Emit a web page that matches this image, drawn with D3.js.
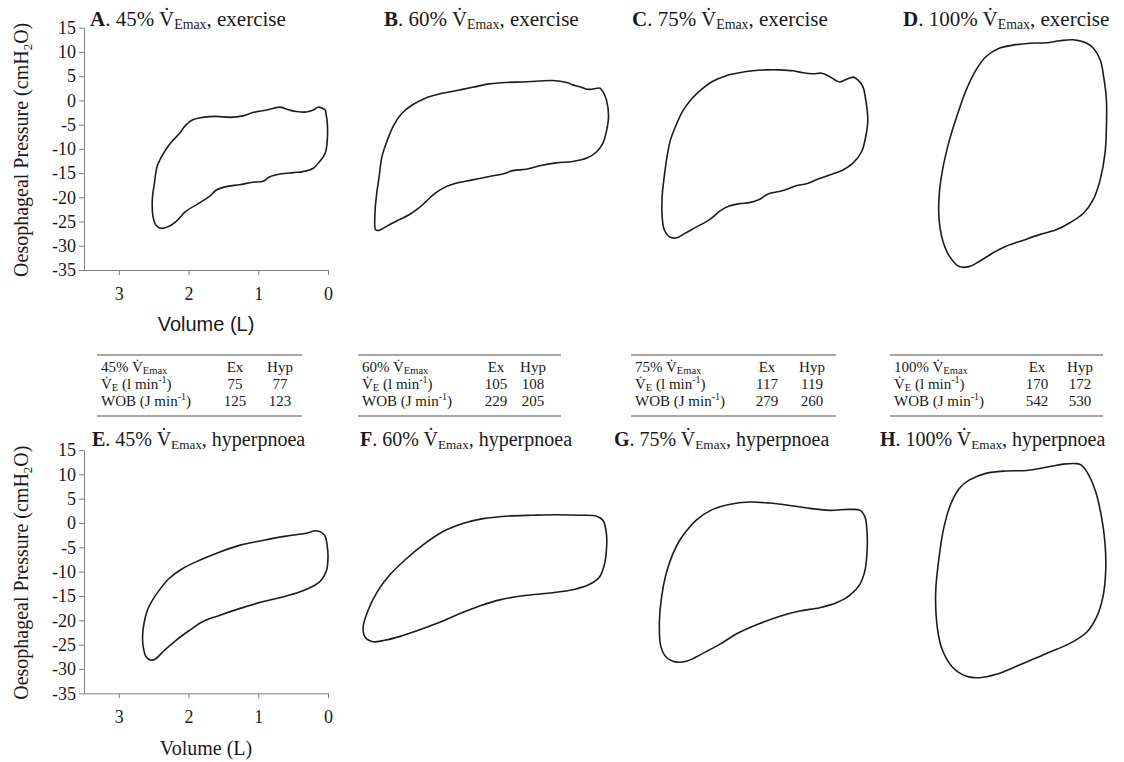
<!DOCTYPE html>
<html>
<head>
<meta charset="utf-8">
<script src="https://cdn.jsdelivr.net/npm/d3@7"></script>
<style>
  body { margin: 0; background: #fff; }
  svg { display: block; }
  text { font-family: "Liberation Serif", "Times New Roman", "DejaVu Serif", serif; fill: #1a1a1a; }
  text.sans { font-family: "Liberation Sans", Arial, sans-serif; }
</style>
</head>
<body>
<svg id="fig" width="1124" height="762"></svg>
<script>
// ---- Data: pressure–volume loops (volume in L from end-expiration, pressure in cmH2O)
const panelLetters = ["A", "B", "C", "D", "E", "F", "G", "H"];
const intensities = ["45%", "60%", "75%", "100%"];
const conditions = ["exercise", "hyperpnoea"];
const pressureTicks = [-35, -30, -25, -20, -15, -10, -5, 0, 5, 10, 15];
const volumeTicks = [3, 2, 1, 0];

const loopA = [[0.04,-2.0],[0.14,-1.4],[0.21,-2.0],[0.31,-2.4],[0.45,-2.3],[0.55,-2.0],[0.69,-1.4],[0.88,-2.0],[1.08,-2.5],[1.22,-3.2],[1.41,-3.5],[1.60,-3.3],[1.80,-3.5],[1.94,-4.0],[2.04,-5.1],[2.13,-6.8],[2.28,-9.2],[2.37,-11.2],[2.45,-13.6],[2.49,-17.1],[2.52,-20.5],[2.51,-24.0],[2.47,-25.7],[2.40,-26.4],[2.30,-26.1],[2.18,-25.0],[2.04,-22.9],[1.85,-21.2],[1.70,-19.8],[1.60,-18.5],[1.46,-17.8],[1.27,-17.4],[1.08,-16.9],[0.93,-16.7],[0.84,-15.8],[0.69,-15.2],[0.50,-14.9],[0.36,-14.7],[0.21,-14.0],[0.12,-12.6],[0.04,-10.9],[0.01,-8.1],[0.01,-4.7],[0.03,-2.6]];

const loopB = [[0.22,2.5],[0.29,2.3],[0.36,2.3],[0.46,2.8],[0.56,3.2],[0.65,3.7],[0.85,4.1],[1.04,4.0],[1.28,3.8],[1.52,3.7],[1.76,3.4],[2.00,2.7],[2.24,2.0],[2.48,1.3],[2.67,0.5],[2.86,-0.9],[3.01,-2.6],[3.13,-5.1],[3.22,-8.1],[3.30,-11.6],[3.34,-15.7],[3.38,-19.8],[3.40,-23.3],[3.39,-26.7],[3.34,-26.8],[3.20,-25.7],[3.05,-24.6],[2.91,-23.6],[2.77,-22.2],[2.67,-20.9],[2.53,-19.1],[2.38,-17.8],[2.24,-17.1],[2.00,-16.4],[1.76,-15.7],[1.57,-15.2],[1.42,-14.5],[1.23,-14.2],[1.04,-13.5],[0.80,-12.9],[0.56,-12.6],[0.36,-11.9],[0.22,-10.6],[0.13,-8.8],[0.08,-6.4],[0.05,-3.3],[0.08,0.1],[0.13,1.8],[0.17,2.5]];

const loopC = [[0.32,4.6],[0.39,4.2],[0.46,3.8],[0.53,4.2],[0.63,5.1],[0.72,5.6],[0.85,5.5],[0.99,5.7],[1.13,6.1],[1.33,6.3],[1.52,6.3],[1.71,6.1],[1.90,5.7],[2.09,5.1],[2.29,3.9],[2.45,2.2],[2.60,0.1],[2.72,-2.3],[2.81,-5.1],[2.89,-8.1],[2.94,-11.6],[2.98,-15.7],[3.01,-19.8],[3.01,-24.0],[2.98,-26.7],[2.91,-28.1],[2.81,-28.4],[2.69,-27.5],[2.53,-26.2],[2.33,-24.6],[2.17,-22.7],[2.05,-21.8],[1.90,-21.3],[1.76,-21.1],[1.61,-20.4],[1.49,-19.3],[1.33,-18.8],[1.21,-18.3],[1.09,-17.6],[0.94,-17.2],[0.80,-16.4],[0.61,-15.4],[0.41,-14.3],[0.27,-12.9],[0.15,-10.6],[0.09,-7.5],[0.06,-4.0],[0.09,0.1],[0.13,2.8],[0.20,4.2],[0.27,4.8]];

const loopD = [[0.36,11.8],[0.56,12.5],[0.75,12.3],[0.94,11.9],[1.18,11.8],[1.42,11.4],[1.61,10.8],[1.81,9.0],[1.95,6.3],[2.09,2.2],[2.21,-2.6],[2.33,-8.1],[2.43,-14.3],[2.48,-19.8],[2.48,-24.6],[2.43,-28.8],[2.33,-32.2],[2.19,-34.3],[2.05,-34.3],[1.90,-33.2],[1.71,-31.5],[1.52,-30.1],[1.28,-28.9],[1.04,-27.7],[0.80,-26.7],[0.61,-25.3],[0.41,-23.3],[0.27,-20.5],[0.17,-16.4],[0.10,-10.9],[0.08,-5.4],[0.08,0.1],[0.12,4.9],[0.17,8.4],[0.27,10.8]];

const loopE = [[0.17,-1.6],[0.05,-2.5],[0.01,-4.9],[0.00,-7.0],[0.02,-9.7],[0.10,-11.8],[0.19,-12.8],[0.41,-14.2],[0.65,-15.2],[0.94,-16.2],[1.27,-17.6],[1.56,-19.0],[1.80,-20.3],[1.99,-22.1],[2.18,-24.1],[2.35,-26.2],[2.47,-27.9],[2.54,-28.2],[2.61,-27.5],[2.65,-25.5],[2.66,-23.4],[2.64,-20.7],[2.59,-17.9],[2.52,-15.9],[2.42,-13.8],[2.28,-11.4],[2.09,-9.4],[1.85,-7.7],[1.56,-6.0],[1.27,-4.6],[0.94,-3.6],[0.60,-2.7],[0.31,-2.1]];

const loopF = [[0.22,1.4],[0.46,1.6],[0.80,1.7],[1.13,1.6],[1.52,1.4],[1.85,0.9],[2.14,-0.1],[2.43,-1.8],[2.71,-4.5],[2.97,-7.6],[3.19,-10.7],[3.37,-14.2],[3.50,-18.0],[3.57,-21.4],[3.54,-23.5],[3.43,-24.4],[3.26,-24.1],[3.04,-23.3],[2.75,-21.9],[2.47,-20.4],[2.18,-18.6],[1.89,-17.0],[1.61,-15.8],[1.25,-14.9],[0.89,-14.4],[0.53,-13.6],[0.32,-12.6],[0.18,-11.1],[0.11,-8.6],[0.08,-5.6],[0.08,-2.2],[0.13,0.55]];

const loopG = [[0.17,2.6],[0.32,2.8],[0.61,2.6],[0.89,3.0],[1.18,3.6],[1.47,4.1],[1.76,4.3],[2.05,3.8],[2.30,2.7],[2.52,0.6],[2.66,-1.6],[2.76,-3.6],[2.87,-6.8],[2.96,-10.8],[3.02,-15.4],[3.05,-20.7],[3.03,-25.3],[2.95,-27.6],[2.80,-28.6],[2.64,-28.3],[2.44,-26.9],[2.18,-24.9],[1.92,-22.6],[1.62,-20.7],[1.33,-19.2],[1.04,-18.1],[0.75,-17.4],[0.51,-16.4],[0.32,-14.9],[0.17,-12.5],[0.10,-9.7],[0.07,-5.6],[0.07,-2.2],[0.10,1.2]];

const loopH = [[0.51,12.2],[0.70,12.1],[0.85,11.7],[1.04,11.2],[1.23,10.8],[1.52,10.7],[1.81,10.2],[2.05,8.8],[2.19,7.1],[2.31,4.0],[2.41,-0.8],[2.48,-7.0],[2.53,-14.5],[2.50,-22.1],[2.43,-26.2],[2.29,-29.6],[2.09,-31.5],[1.90,-31.8],[1.66,-31.1],[1.33,-29.2],[0.94,-26.8],[0.61,-24.8],[0.36,-22.4],[0.22,-19.3],[0.13,-15.2],[0.09,-9.7],[0.10,-4.2],[0.15,1.2],[0.24,6.7],[0.36,10.5],[0.44,11.9]];

const loops = [loopA, loopB, loopC, loopD, loopE, loopF, loopG, loopH];

// Summary tables: minute ventilation and work of breathing
const veExercise = [75, 105, 117, 170];
const veHyperpnoea = [77, 108, 119, 172];
const wobExercise = [125, 229, 279, 542];
const wobHyperpnoea = [123, 205, 260, 530];

// ---- Layout
const svg = d3.select("#fig");
const rows = [
  { yTop: 27.7, yBottom: 270, titleY: 26, titleSize: 21 },
  { yTop: 450, yBottom: 693.3, titleY: 446, titleSize: 20 }
];
const zeroX = [328, 612, 872, 1112];        // pixel position of 0 L for each column
const plotWidth = 244;                      // 3.5 L span
const titleX = [[90, 384, 632, 903], [92, 360, 614, 880]];

const line = d3.line().curve(d3.curveCatmullRomClosed.alpha(0.5));

function drawTitle(x, y, size, letter, pct, cond) {
  const t = svg.append("text").attr("x", x).attr("y", y).attr("font-size", size);
  t.append("tspan").attr("font-weight", "bold").text(letter);
  t.append("tspan").text(". " + pct + " V\u0307");
  t.append("tspan").attr("font-size", size * 0.66).attr("dy", 3).text("Emax");
  t.append("tspan").attr("dy", -3).text(", " + cond);
}

rows.forEach((r, ri) => {
  const y = d3.scaleLinear().domain([-35, 15]).range([r.yBottom, r.yTop]);
  zeroX.forEach((x0, ci) => {
    const idx = ri * 4 + ci;
    const x = d3.scaleLinear().domain([3.5, 0]).range([x0 - plotWidth, x0]);
    svg.append("path")
      .attr("d", line(loops[idx].map(d => [x(d[0]), y(d[1])])))
      .attr("fill", "none").attr("stroke", "#1c1c1c").attr("stroke-width", 1.6)
      .attr("stroke-linejoin", "round");
    drawTitle(titleX[ri][ci], r.titleY, r.titleSize, panelLetters[idx], intensities[ci], conditions[ri]);

    if (ci === 0) {
      const gy = svg.append("g").attr("transform", `translate(${x0 - plotWidth},0)`)
        .call(d3.axisLeft(y).tickValues(pressureTicks).tickSize(5).tickSizeOuter(0).tickPadding(3)
          .tickFormat(d => String(d)));
      const gx = svg.append("g").attr("transform", `translate(0,${r.yBottom})`)
        .call(d3.axisBottom(x).tickValues(volumeTicks).tickSize(5).tickSizeOuter(0).tickPadding(12)
          .tickFormat(d => String(d)));
      [gy, gx].forEach(g => {
        g.attr("font-family", null);
        g.select(".domain").attr("stroke", "#808080");
        g.selectAll(".tick line").attr("stroke", "#808080");
        g.selectAll(".tick text")
          .style("font-family", "'Liberation Serif', 'Times New Roman', serif")
          .attr("font-size", 18).attr("fill", "#1a1a1a");
      });
      // y-axis title
      const yl = svg.append("text")
        .attr("transform", `translate(28,${(r.yTop + r.yBottom) / 2 + 1}) rotate(-90)`)
        .attr("text-anchor", "middle").attr("font-size", 20);
      yl.append("tspan").text("Oesophageal Pressure (cmH");
      yl.append("tspan").attr("font-size", 13).attr("dy", 4).text("2");
      yl.append("tspan").attr("dy", -4).text("O)");
      // x-axis title
      svg.append("text")
        .attr("class", ri === 0 ? "sans" : null)
        .attr("x", x0 - plotWidth / 2).attr("y", ri === 0 ? 331 : 755)
        .attr("text-anchor", "middle").attr("font-size", 20)
        .text("Volume (L)");
    }
  });
});

// ---- Tables between the rows
const tableX = [97, 358, 631, 890];
const tableW = [205, 203, 205, 213];
const colEx = [138, 138, 136, 147];
const colHyp = [183, 175, 181, 190];
const tTop = 355, tBottom = 416;
const rowY = [372, 389, 406];

intensities.forEach((pct, i) => {
  const g = svg.append("g").attr("transform", `translate(${tableX[i]},0)`);
  [tTop, tBottom].forEach(yy => g.append("line")
    .attr("x1", 0).attr("x2", tableW[i]).attr("y1", yy).attr("y2", yy)
    .attr("stroke", "#888").attr("stroke-width", 1.3));
  const fs = 15;
  // header row
  const h = g.append("text").attr("x", 4).attr("y", rowY[0]).attr("font-size", fs);
  h.append("tspan").text(pct + " V\u0307");
  h.append("tspan").attr("font-size", 10.5).attr("dy", 2).text("Emax");
  g.append("text").attr("x", colEx[i]).attr("y", rowY[0]).attr("font-size", fs)
    .attr("text-anchor", "middle").text("Ex");
  g.append("text").attr("x", colHyp[i]).attr("y", rowY[0]).attr("font-size", fs)
    .attr("text-anchor", "middle").text("Hyp");
  // ventilation row
  const v = g.append("text").attr("x", 4).attr("y", rowY[1]).attr("font-size", fs);
  v.append("tspan").text("V\u0307");
  v.append("tspan").attr("font-size", 10.5).attr("dy", 2).text("E");
  v.append("tspan").attr("dy", -2).text(" (l min");
  v.append("tspan").attr("font-size", 10).attr("dy", -6).text("-1");
  v.append("tspan").attr("dy", 6).text(")");
  g.append("text").attr("x", colEx[i]).attr("y", rowY[1]).attr("font-size", fs)
    .attr("text-anchor", "middle").text(veExercise[i]);
  g.append("text").attr("x", colHyp[i]).attr("y", rowY[1]).attr("font-size", fs)
    .attr("text-anchor", "middle").text(veHyperpnoea[i]);
  // work of breathing row
  const w = g.append("text").attr("x", 4).attr("y", rowY[2]).attr("font-size", fs);
  w.append("tspan").text("WOB (J min");
  w.append("tspan").attr("font-size", 10).attr("dy", -6).text("-1");
  w.append("tspan").attr("dy", 6).text(")");
  g.append("text").attr("x", colEx[i]).attr("y", rowY[2]).attr("font-size", fs)
    .attr("text-anchor", "middle").text(wobExercise[i]);
  g.append("text").attr("x", colHyp[i]).attr("y", rowY[2]).attr("font-size", fs)
    .attr("text-anchor", "middle").text(wobHyperpnoea[i]);
});
</script>
</body>
</html>
